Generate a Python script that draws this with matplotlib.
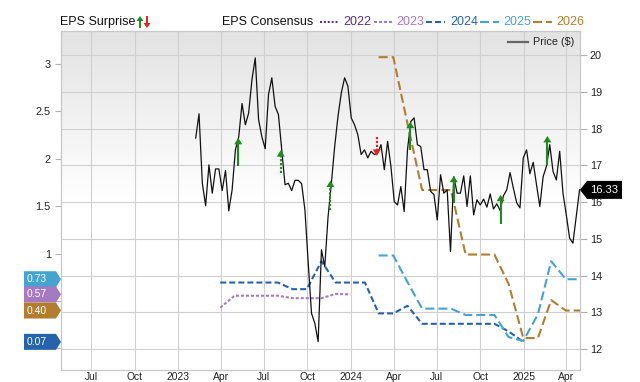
import matplotlib
matplotlib.use("Agg")
import matplotlib.pyplot as plt
import matplotlib.dates as mdates
import numpy as np
import pandas as pd
from matplotlib.patches import Polygon
from matplotlib.lines import Line2D
from matplotlib.transforms import IdentityTransform

plt.rcParams['font.family'] = ['Liberation Sans', 'DejaVu Sans']
plt.rcParams['lines.scale_dashes'] = False

# ---------------- data ----------------
price_start = "2023-02-07"
price_values = [17.74, 18.40, 16.51, 15.90, 17.01, 16.24, 16.90, 16.90, 16.31, 16.86,
                15.76, 16.33, 17.42, 17.77, 18.68, 18.10, 18.42, 19.33, 19.92, 18.24,
                17.77, 17.45, 18.92, 19.38, 18.60, 18.38, 17.42, 16.47, 16.51, 16.31,
                16.59, 16.59, 16.50, 15.79, 14.34, 12.97, 12.70, 12.20, 14.70, 14.24,
                15.60, 16.51, 17.51, 18.33, 18.97, 19.38, 19.15, 18.29, 18.10, 17.83,
                17.29, 17.42, 17.20, 17.38, 17.29, 17.33, 17.56, 16.88, 17.65, 16.97,
                16.01, 15.92, 16.42, 15.74, 17.42, 18.19, 18.29, 17.56, 17.51, 16.88,
                16.88, 16.29, 16.20, 15.51, 16.74, 16.24, 16.33, 14.65, 16.69, 16.24,
                16.24, 16.71, 15.88, 16.71, 15.65, 16.06, 15.92, 16.08, 15.86, 16.22,
                15.81, 15.95, 15.77, 16.17, 16.33, 16.80, 16.38, 15.98, 15.84, 17.20,
                17.42, 16.77, 17.08, 16.47, 15.88, 16.69, 16.97, 17.56, 16.83, 16.60,
                17.38, 16.24, 15.65, 15.02, 14.88, 15.60, 16.33]

c2023_dates = ["2023-03-31", "2023-04-30", "2023-05-31", "2023-06-30", "2023-07-31",
               "2023-08-31", "2023-09-30", "2023-10-31", "2023-11-30", "2023-12-31"]
c2023_vals = [0.43, 0.556, 0.556, 0.556, 0.556, 0.53, 0.53, 0.53, 0.575, 0.57]

c2024_dates = ["2023-03-31", "2023-04-30", "2023-05-31", "2023-06-30", "2023-07-31",
               "2023-08-31", "2023-09-30", "2023-10-31", "2023-11-30", "2023-12-31",
               "2024-01-31", "2024-02-29", "2024-03-31", "2024-04-30", "2024-05-31",
               "2024-06-30", "2024-07-31", "2024-08-31", "2024-09-30", "2024-10-31",
               "2024-11-30", "2024-12-31"]
c2024_vals = [0.695, 0.695, 0.695, 0.695, 0.695, 0.625, 0.625, 0.92, 0.695, 0.695,
              0.695, 0.37, 0.37, 0.45, 0.26, 0.26, 0.26, 0.26, 0.26, 0.26, 0.18, 0.07]

c2025_dates = ["2024-02-29", "2024-03-31", "2024-04-30", "2024-05-31", "2024-06-30",
               "2024-07-31", "2024-08-31", "2024-09-30", "2024-10-31", "2024-11-30",
               "2024-12-31", "2025-01-31", "2025-02-28", "2025-03-31", "2025-04-30"]
c2025_vals = [0.98, 0.98, 0.70, 0.42, 0.42, 0.42, 0.353, 0.353, 0.353, 0.12,
              0.08, 0.36, 0.92, 0.73, 0.73]

c2026_dates = c2025_dates
c2026_vals = [3.07, 3.07, 2.37, 1.67, 1.67, 1.67, 0.99, 0.99, 0.99, 0.68,
              0.11, 0.11, 0.51, 0.40, 0.40]

surprise_dates = ["2023-05-08", "2023-08-06", "2023-11-19", "2024-02-25",
                  "2024-05-06", "2024-08-06", "2024-11-13", "2025-02-20"]
surprise_from = [1.92, 1.85, 1.46, 2.23, 2.09, 1.53, 1.31, 1.93]
surprise_to = [2.22, 2.09, 1.77, 2.03, 2.39, 1.82, 1.62, 2.24]
surprise_dotted = [False, True, True, True, False, False, False, False]

tick_dates = ["2022-07-01", "2022-10-01", "2023-01-01", "2023-04-01", "2023-07-01",
              "2023-10-01", "2024-01-01", "2024-04-01", "2024-07-01", "2024-10-01",
              "2025-01-01", "2025-04-01"]
tick_labels = ["Jul", "Oct", "2023", "Apr", "Jul", "Oct", "2024", "Apr", "Jul", "Oct",
               "2025", "Apr"]
eps_ticks = [0, 0.5, 1, 1.5, 2, 2.5, 3]
eps_tick_labels = ["", "", "1", "1.5", "2", "2.5", "3"]   # lower two are hidden under the tags
price_ticks = [12, 13, 14, 15, 16, 17, 18, 19, 20]

cons_years = ["2022", "2023", "2024", "2025", "2026"]
cons_colors = ["#5a2d82", "#a779c0", "#2563ab", "#45a3cf", "#b27d2e"]

# ---------------- figure ----------------
W, H = 640, 382
fig = plt.figure(figsize=(W / 100, H / 100), dpi=100)
ID = IdentityTransform()
ax = fig.add_axes([61 / W, 1 - 370 / H, (580 - 61) / W, (370 - 31) / H])
ax2 = ax.twinx()

# gradient background
t = np.linspace(0, 1, 300)
g = 0.89 + 0.11 * np.clip(t / 0.5, 0, 1)
img = np.dstack([g, g, g]).reshape(300, 1, 3)
ax.imshow(img, extent=[0, 1, 0, 1], transform=ax.transAxes, aspect='auto',
          zorder=0, interpolation='bilinear')

ax.set_xlim(pd.Timestamp("2022-04-28"), pd.Timestamp("2025-04-30"))
ax.set_ylim(-0.2266, 3.3456)
ax2.set_ylim(11.429, 20.653)

gridc = '#d0d0d0'
ax.set_xticks(pd.to_datetime(tick_dates))
ax.set_xticklabels(tick_labels)
ax.tick_params(axis='x', length=0, pad=1.2, labelsize=7.4, labelcolor='#222')
ax.grid(axis='x', color=gridc, lw=0.8)
ax.set_axisbelow(True)

ax.set_yticks(eps_ticks)
ax.set_yticklabels(eps_tick_labels)
ax.tick_params(axis='y', length=4.3, width=0.8, color='#b0b0b0', pad=3,
               labelsize=7.8, labelcolor='#222')

ax2.set_yticks(price_ticks)
ax2.set_yticklabels([str(v) for v in price_ticks])
ax2.tick_params(axis='y', length=5, width=0.8, color='#b0b0b0', pad=2,
                labelsize=7.8, labelcolor='#222')
ax2.grid(axis='y', color=gridc, lw=0.8)
ax2.set_axisbelow(True)

for a in (ax, ax2):
    for s in a.spines.values():
        s.set_color('#c8c8c8')
        s.set_linewidth(0.8)

# consensus lines (EPS units, drawn with the left axis scale)
cons_dashes = [(1.4, 1.4), (2.2, 1.4), (4.3, 2.2), (6.5, 2.9), (6.5, 2.9)]
series = [(c2023_dates, c2023_vals, 1), (c2024_dates, c2024_vals, 2),
          (c2025_dates, c2025_vals, 3), (c2026_dates, c2026_vals, 4)]
for d, v, k in series:
    ax2.plot(pd.to_datetime(d), v, color=cons_colors[k], lw=1.5,
             dashes=cons_dashes[k], transform=ax.transData, zorder=2)

# price line
price_dates = pd.date_range(price_start, periods=len(price_values), freq="7D")
ax2.plot(price_dates, price_values, color='#111111', lw=0.9, zorder=3)

ax.set_xlim(pd.Timestamp("2022-04-28"), pd.Timestamp("2025-04-30"))
ax.set_ylim(-0.2266, 3.3456)
ax2.set_ylim(11.429, 20.653)


def disp(axis, d, v):
    return axis.transData.transform((mdates.date2num(pd.Timestamp(d)), v))


def arrow(x, yb, yt, color, dotted, hl=6.5, hw=4.0, lw=1.5):
    sgn = 1 if yt > yb else -1
    hb = yt - sgn * hl
    kw = dict(dashes=(1.6, 1.2)) if dotted else {}
    fig.add_artist(Line2D([x, x], [yb, hb + sgn * 0.5], color=color, lw=lw,
                          transform=ID, zorder=6, solid_capstyle='butt', **kw))
    fig.add_artist(Polygon([(x - hw, hb), (x + hw, hb), (x, yt)], closed=True,
                           facecolor=color, edgecolor='none', transform=ID, zorder=6))


green, red = '#1c8c1c', '#e8201e'
for d, a, b, dot in zip(surprise_dates, surprise_from, surprise_to, surprise_dotted):
    xb, yb = disp(ax, d, a)
    _, yt = disp(ax, d, b)
    arrow(xb, yb, yt, green if b > a else red, dot)

# ---------------- tags ----------------
def tag_left(yc, text, color):
    h = 8
    fig.add_artist(Polygon([(24, yc - h), (56, yc - h), (61, yc), (56, yc + h), (24, yc + h)],
                           closed=True, facecolor=color, edgecolor='none',
                           transform=ID, zorder=7))
    fig.text(27, yc, text, transform=ID, color='white', fontsize=7.5,
             va='center', ha='left', zorder=8)


for vals, k in [(c2025_vals, 3), (c2023_vals, 1), (c2026_vals, 4), (c2024_vals, 2)]:
    yc = disp(ax, "2025-01-01", vals[-1])[1]
    tag_left(yc, f"{vals[-1]:.2f}", cons_colors[k])

yc = disp(ax2, "2025-01-01", price_values[-1])[1]
h = 9
fig.add_artist(Polygon([(580, yc), (587, yc + h), (622, yc + h), (622, yc - h), (587, yc - h)],
                       closed=True, facecolor='black', edgecolor='none',
                       transform=ID, zorder=7))
fig.text(590, yc, f"{price_values[-1]:.2f}", transform=ID, color='white',
         fontsize=8, va='center', ha='left', zorder=8)

# ---------------- header legend ----------------
yh = H - 22
fig.text(60, yh, "EPS Surprise", transform=ID, fontsize=9, va='center', ha='left', color='#111')
arrow(140, yh - 6, yh + 6, green, False, hl=5, hw=3.5, lw=1.4)
arrow(147, yh + 6, yh - 6, red, False, hl=5, hw=3.5, lw=1.4)
fig.text(222, yh, "EPS Consensus", transform=ID, fontsize=9, va='center', ha='left', color='#111')
line_x = [320, 374, 426, 480, 533]
text_x = [343, 396, 450, 503, 556]
for k, yr in enumerate(cons_years):
    fig.add_artist(Line2D([line_x[k], line_x[k] + 19], [yh, yh], color=cons_colors[k], lw=1.5,
                          dashes=cons_dashes[k], transform=ID))
    fig.text(text_x[k], yh, yr, transform=ID, fontsize=9, va='center', ha='left',
             color=cons_colors[k])

# price legend
fig.add_artist(Line2D([508, 528], [H - 42, H - 42], color='#666666', lw=1.6, transform=ID))
fig.text(533, H - 42, "Price ($)", transform=ID, fontsize=7.8, va='center', ha='left', color='#222')

fig.savefig("out.png", dpi=100)
